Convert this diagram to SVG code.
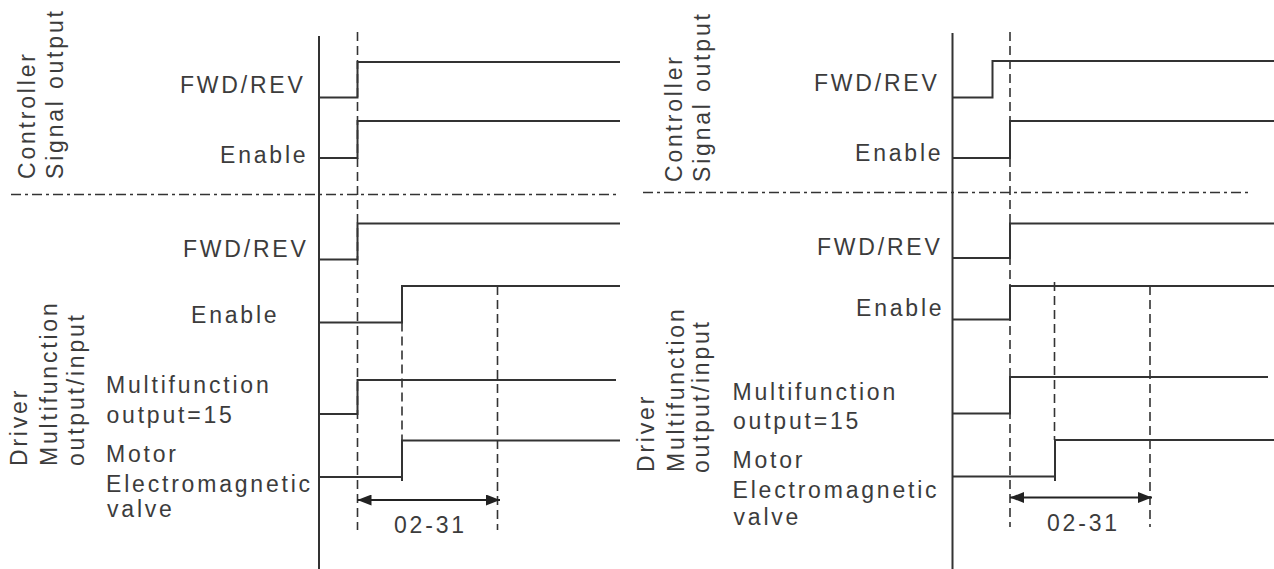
<svg xmlns="http://www.w3.org/2000/svg" width="1274" height="569" viewBox="0 0 1274 569">
<style>
text{font-family:"Liberation Sans",Arial,sans-serif;font-size:23px;letter-spacing:2.8px;fill:#3c3c3c}
.ax{stroke:#333;stroke-width:2;fill:none}
.sig{stroke:#333;stroke-width:2;fill:none}
.dv{stroke:#333;stroke-width:1.6;stroke-dasharray:9 5;fill:none}
.dh{stroke:#333;stroke-width:1.6;stroke-dasharray:10 4 3 4;fill:none}
.dim{stroke:#222;stroke-width:2;fill:none;marker-start:url(#ah);marker-end:url(#ah)}
</style>
<defs>
<marker id="ah" viewBox="0 0 14 11" refX="14" refY="5.5" markerWidth="14" markerHeight="11" markerUnits="userSpaceOnUse" orient="auto-start-reverse">
<path d="M0,0 L14,5.5 L0,11 z" fill="#222"/>
</marker>
</defs>
<rect width="1274" height="569" fill="#fff"/>

<g id="left-panel">
 <g id="left-group-labels">
  <text transform="translate(35,179) rotate(-90)">Controller</text>
  <text transform="translate(63,179) rotate(-90)">Signal output</text>
  <text transform="translate(27,466) rotate(-90)">Driver</text>
  <text transform="translate(56.5,466) rotate(-90)">Multifunction</text>
  <text transform="translate(84,466) rotate(-90)">output/input</text>
 </g>
 <g id="left-axes">
  <line class="ax" x1="319" y1="36" x2="319" y2="569"/>
  <line class="dh" x1="11" y1="194.5" x2="616" y2="194.5"/>
  <line class="dv" x1="357.5" y1="32" x2="357.5" y2="530"/>
  <line class="dv" x1="402" y1="322.5" x2="402" y2="440.5"/>
  <line class="dv" x1="497.5" y1="286" x2="497.5" y2="530"/>
 </g>
 <g id="left-ctrl-fwdrev">
  <text x="180" y="93">FWD/REV</text>
  <polyline class="sig" points="319,97.5 357.5,97.5 357.5,62 620,62"/>
 </g>
 <g id="left-ctrl-enable">
  <text x="220" y="163">Enable</text>
  <polyline class="sig" points="319,158 357.5,158 357.5,121 620,121"/>
 </g>
 <g id="left-drv-fwdrev">
  <text x="183" y="257">FWD/REV</text>
  <polyline class="sig" points="319,259.5 357.5,259.5 357.5,223.5 620,223.5"/>
 </g>
 <g id="left-drv-enable">
  <text x="191" y="323">Enable</text>
  <polyline class="sig" points="319,322.5 402,322.5 402,286 620,286"/>
 </g>
 <g id="left-drv-mfo">
  <text x="106" y="393">Multifunction</text>
  <text x="106.5" y="423">output=15</text>
  <polyline class="sig" points="319,414 357.5,414 357.5,380 616,380"/>
 </g>
 <g id="left-drv-motor">
  <text x="106" y="462">Motor</text>
  <text x="106" y="492">Electromagnetic</text>
  <text x="107" y="517">valve</text>
  <polyline class="sig" points="319,477 402,477"/>
  <polyline class="sig" points="402,481 402,440.5 620,440.5"/>
 </g>
 <g id="left-dim">
  <line class="dim" x1="357.5" y1="500" x2="500" y2="500"/>
  <text x="394" y="533">02-31</text>
 </g>
</g>

<g id="right-panel">
 <g id="right-group-labels">
  <text transform="translate(682,182) rotate(-90)">Controller</text>
  <text transform="translate(709.5,182) rotate(-90)">Signal output</text>
  <text transform="translate(654,472) rotate(-90)">Driver</text>
  <text transform="translate(684,472) rotate(-90)">Multifunction</text>
  <text transform="translate(708.5,473) rotate(-90)">output/input</text>
 </g>
 <g id="right-axes">
  <line class="ax" x1="952.5" y1="33" x2="952.5" y2="569"/>
  <line class="dh" x1="643" y1="192.5" x2="1248" y2="192.5"/>
  <line class="dv" x1="1010" y1="32" x2="1010" y2="527"/>
  <line class="dv" x1="1054.5" y1="282" x2="1054.5" y2="440"/>
  <line class="dv" x1="1150" y1="286" x2="1150" y2="527"/>
 </g>
 <g id="right-ctrl-fwdrev">
  <text x="814" y="91">FWD/REV</text>
  <polyline class="sig" points="952.5,97.5 992.5,97.5 992.5,61 1274,61"/>
 </g>
 <g id="right-ctrl-enable">
  <text x="855" y="161">Enable</text>
  <polyline class="sig" points="952.5,158 1010,158 1010,121 1274,121"/>
 </g>
 <g id="right-drv-fwdrev">
  <text x="817" y="255">FWD/REV</text>
  <polyline class="sig" points="952.5,258 1010,258 1010,223.5 1274,223.5"/>
 </g>
 <g id="right-drv-enable">
  <text x="856" y="316">Enable</text>
  <polyline class="sig" points="952.5,319.5 1010,319.5 1010,286 1274,286"/>
 </g>
 <g id="right-drv-mfo">
  <text x="732.5" y="400">Multifunction</text>
  <text x="733" y="429">output=15</text>
  <polyline class="sig" points="952.5,413.5 1010,413.5 1010,377 1268,377"/>
 </g>
 <g id="right-drv-motor">
  <text x="732.5" y="468">Motor</text>
  <text x="732.5" y="498">Electromagnetic</text>
  <text x="733.5" y="525">valve</text>
  <polyline class="sig" points="952.5,476.5 1055,476.5"/>
  <polyline class="sig" points="1055,481 1055,440 1274,440"/>
 </g>
 <g id="right-dim">
  <line class="dim" x1="1010" y1="497.5" x2="1152" y2="497.5"/>
  <text x="1047" y="531">02-31</text>
 </g>
</g>
</svg>
